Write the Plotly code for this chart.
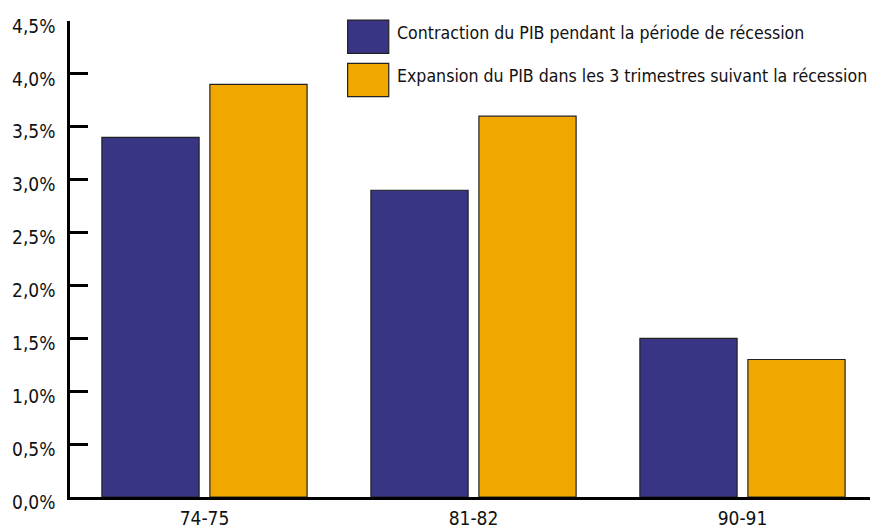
import plotly.graph_objects as go

categories = ["74-75", "81-82", "90-91"]
contraction = [3.4, 2.9, 1.5]
expansion = [3.9, 3.6, 1.3]
series_names = ["Contraction du PIB pendant la période de récession",
                "Expansion du PIB dans les 3 trimestres suivant la récession"]
colors = ["#383584", "#F0A800"]
y_ticks = [0, 0.5, 1.0, 1.5, 2.0, 2.5, 3.0, 3.5, 4.0, 4.5]
y_tick_labels = ["0,0%", "0,5%", "1,0%", "1,5%", "2,0%", "2,5%", "3,0%", "3,5%", "4,0%", "4,5%"]

FONT = "DejaVu Sans Condensed, Liberation Sans Narrow, sans-serif"

fig = go.Figure()
for vals, name, col in zip([contraction, expansion], series_names, colors):
    fig.add_trace(go.Bar(x=categories, y=vals, name=name,
                         marker=dict(color=col, line=dict(color="#222222", width=1.2)),
                         showlegend=False))

# manual legend
leg_y = [0.967, 0.876]
for name, col, yy in zip(series_names, colors, leg_y):
    fig.add_shape(type="rect", xref="paper", yref="paper",
                  x0=0.344, x1=0.395, y0=yy - 0.035, y1=yy + 0.035,
                  fillcolor=col, line=dict(color="#222222", width=1.2))
    fig.add_annotation(xref="paper", yref="paper", x=0.403, y=yy + 0.008, text=name,
                       showarrow=False, xanchor="left", yanchor="middle",
                       font=dict(family=FONT, size=17.6, color="#111111"))

fig.update_layout(
    width=870, height=523,
    margin=dict(l=62, r=1, t=13, b=34, autoexpand=False),
    paper_bgcolor="white", plot_bgcolor="white",
    barmode="group", bargap=0.197, bargroupgap=0.10,
    font=dict(family=FONT, size=19, color="#111111"),
    xaxis=dict(range=[-0.5, 2.5], showline=True, linecolor="black", linewidth=2.5,
               ticks="", showgrid=False, tickfont=dict(size=19), ticklabelstandoff=2),
    yaxis=dict(range=[0, 4.5], tickvals=y_ticks, ticktext=y_tick_labels,
               showline=True, linecolor="black", linewidth=2.5,
               ticks="inside", ticklen=18, tickwidth=2.5, tickcolor="black",
               showgrid=False, zeroline=False, tickfont=dict(size=19),
               ticklabelstandoff=8, ticklabelshift=5),
)

fig.write_html("out.html")
